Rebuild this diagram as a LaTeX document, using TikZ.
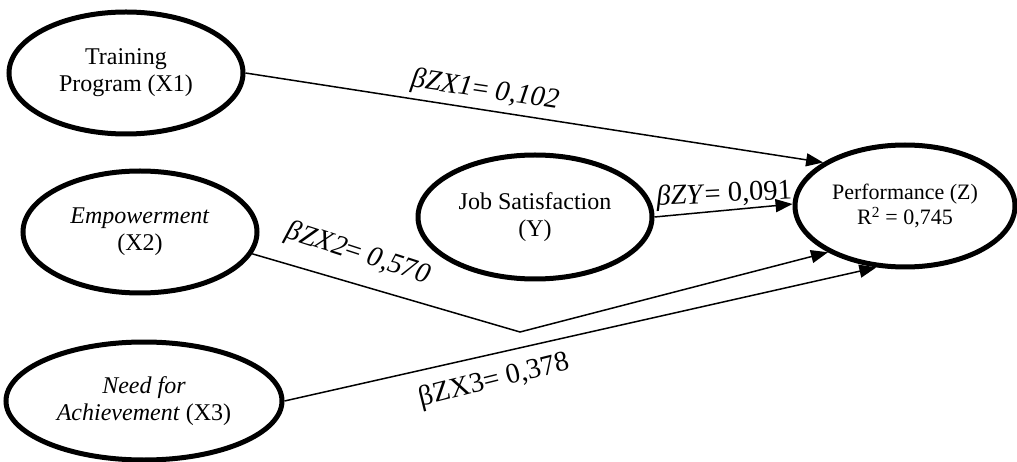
\documentclass[tikz,border=0pt]{standalone}
\usepackage{fontspec}
\setmainfont{Liberation Serif}
\usetikzlibrary{shapes.geometric,arrows.meta}
\pgfdeclarelayer{background}
\pgfsetlayers{background,main}
\begin{document}
\begin{tikzpicture}[x=1pt,y=-1pt,
  var/.style={ellipse,draw,line width=5pt,fill=white,inner sep=0pt,align=center,
    font=\fontsize{24}{27}\selectfont},
  path/.style={line width=1.5pt,-{Triangle[length=17pt,width=13pt]}},
  coef/.style={font=\fontsize{28.5}{31}\selectfont,inner sep=0pt}]
\useasboundingbox (0,0) rectangle (1017,462);
\node[var,minimum width=234pt,minimum height=122pt] (x1) at (126,73) {Training\\Program (X1)};
\node[var,minimum width=234pt,minimum height=122pt] (x2) at (140,232) {\textit{Empowerment}\\(X2)};
\node[var,minimum width=276pt,minimum height=118pt] (x3) at (144,401) {\textit{Need for}\\\textit{Achievement} (X3)};
\node[var,minimum width=234pt,minimum height=124pt] (y) at (535,217) {Job Satisfaction\\(Y)};
\node[var,minimum width=220pt,minimum height=122pt,font=\fontsize{22}{25}\selectfont] (z) at (905,206) {Performance (Z)\\R\textsuperscript{2} = 0,745};
\coordinate (bend) at (520,332);
\draw[path] (x1.east) -- (z.152);
\draw[path] (y.east) -- (z.179);
\draw[path] (x2.-11) -- (bend) -- (z.211);
\draw[path] (x3.east) -- (z.245);
\node[coef,rotate=-8.6] (l1) at (485,91) {\textit{βZX1}= \textit{0,102}};
\node[coef,rotate=-18] (l2) at (358,254) {\textit{βZX2}= \textit{0,570}};
\node[coef,rotate=14] (l3) at (494,381) {βZX3= 0,378};
\begin{pgfonlayer}{background}
\node[coef,rotate=3,anchor=south west] (l4) at (657,212) {\textit{βZY}= 0,091};
\end{pgfonlayer}
\end{tikzpicture}
\end{document}
